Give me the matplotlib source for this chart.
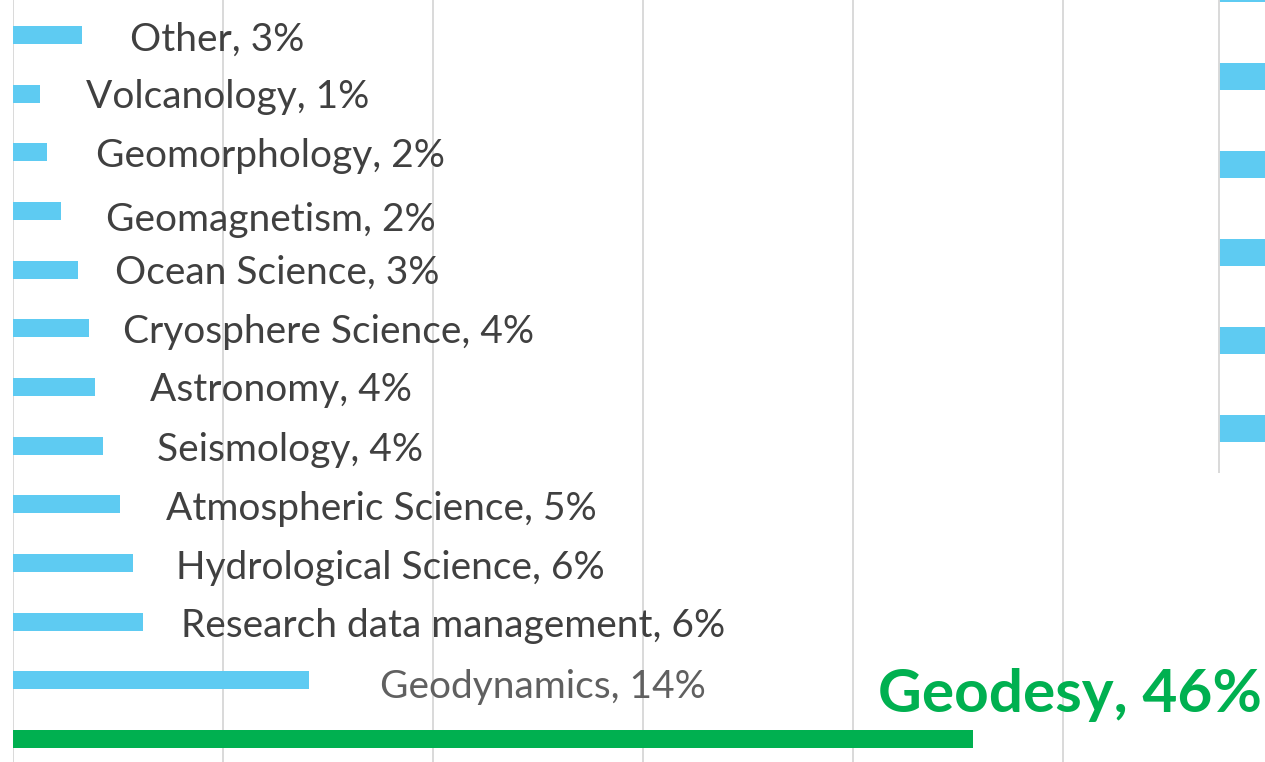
import matplotlib.pyplot as plt

# Shares of submissions by discipline (percent), top to bottom
categories = ['Other', 'Volcanology', 'Geomorphology', 'Geomagnetism', 'Ocean Science',
              'Cryosphere Science', 'Astronomy', 'Seismology', 'Atmospheric Science',
              'Hydrological Science', 'Research data management', 'Geodynamics', 'Geodesy']
values = [3.3, 1.3, 1.6, 2.3, 3.1, 3.6, 3.9, 4.3, 5.1, 5.7, 6.2, 14.1, 45.7]
labels = ['3%', '1%', '2%', '2%', '3%', '4%', '4%', '4%', '5%', '6%', '6%', '14%', '46%']

# label placement (manually dragged labels in the original)
label_x = [5.57, 3.48, 3.95, 4.43, 4.86, 5.24, 6.52, 6.86, 7.29, 7.76, 8.0, 17.48, 41.2]
label_y = [0.26, 1.24, 2.25, 3.34, 4.24, 5.25, 6.24, 7.26, 8.27, 9.27, 10.26, 11.30, 11.54]

# partially visible neighbouring chart at the right edge
right_values = [100, 100, 100, 100, 100, 100]

BLUE = '#5ECBF2'
GREEN = '#00B050'
GRID = '#D9D9D9'

W, H = 1265, 762
fig = plt.figure(figsize=(W / 100, H / 100), dpi=100)

# main chart: x=0 at 13px, 10% per 210px
x0 = 13
ax = fig.add_axes([x0 / W, 0, 1 - x0 / W, 1])
ax.set_xlim(0, (W - x0) / 21)
step = 58.67
ax.set_ylim((H - 35) / step, -35 / step)

colors = [BLUE] * (len(categories) - 1) + [GREEN]
ax.barh(range(len(categories)), values, height=18 / step, color=colors, zorder=2)

for i, (cat, lab) in enumerate(zip(categories, labels)):
    text = f'{cat}, {lab}'
    if cat == 'Geodesy':
        ax.text(label_x[i], label_y[i], text, fontsize=43.5, fontweight='bold', color=GREEN,
                family='Lato', va='baseline', ha='left', zorder=3)
    else:
        col = '#606060' if cat == 'Geodynamics' else '#404040'
        ax.text(label_x[i], label_y[i], text, fontsize=28, color=col,
                family='Lato', va='baseline', ha='left', zorder=3)

ax.set_xticks(range(0, 60, 10))
ax.grid(axis='x', color=GRID, linewidth=1.4, zorder=0)
ax.tick_params(length=0, labelbottom=False, labelleft=False)
ax.set_yticks([])
for s in ax.spines.values():
    s.set_visible(False)

# right neighbour chart, mostly cut off
rx = 1219
r_step = 88
r_bottom = 472
n = len(right_values)
ax2 = fig.add_axes([rx / W, 1 - r_bottom / H, 400 / W, n * r_step / H])
ax2.barh(range(n), right_values, height=27 / r_step, color=BLUE)
ax2.set_ylim(n - 0.5, -0.5)
ax2.set_xlim(0, 100)
ax2.set_facecolor('none')
for k, s in ax2.spines.items():
    s.set_visible(k == 'left')
ax2.spines['left'].set_color(GRID)
ax2.spines['left'].set_linewidth(1.4)
ax2.set_xticks([])
ax2.set_yticks([])

fig.savefig('out.png', dpi=100)
